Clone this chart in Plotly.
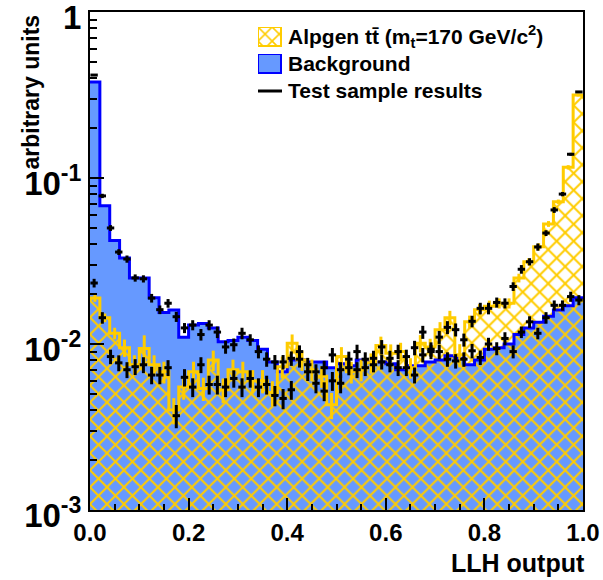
import numpy as np
import plotly.graph_objects as go

# ---------------- data ----------------
# histogram templates: 50 bins on [0, 1]
hist_signal = [0.0189, 0.0144, 0.0116, 0.0095, 0.0075, 0.0094, 0.0075, 0.0068, 0.0040, 0.0055,
               0.0068, 0.0054, 0.0080, 0.0053, 0.0070, 0.0068, 0.0060, 0.0060, 0.0051, 0.0073,
               0.0101, 0.0080, 0.0070, 0.0064, 0.0043, 0.0084, 0.0068, 0.0070, 0.0077, 0.0098,
               0.0088, 0.0090, 0.0072, 0.0101, 0.0096, 0.0122, 0.0144, 0.0086, 0.0136, 0.0161,
               0.0169, 0.0176, 0.0176, 0.0250, 0.0313, 0.0385, 0.0529, 0.0720, 0.1160, 0.3160]
hist_signal_relerr = [0.05, 0.06, 0.08, 0.12, 0.14, 0.20, 0.14, 0.15, 0.18, 0.16,
                      0.15, 0.16, 0.14, 0.17, 0.15, 0.15, 0.16, 0.16, 0.17, 0.15,
                      0.13, 0.14, 0.15, 0.15, 0.18, 0.14, 0.15, 0.15, 0.14, 0.13,
                      0.13, 0.13, 0.14, 0.12, 0.12, 0.11, 0.10, 0.16, 0.09, 0.08,
                      0.08, 0.07, 0.07, 0.06, 0.05, 0.05, 0.04, 0.03, 0.03, 0.02]
hist_background = [0.379, 0.068, 0.042, 0.033, 0.025, 0.025, 0.019, 0.0155, 0.016, 0.011,
                   0.013, 0.0133, 0.0125, 0.0103, 0.0105, 0.0110, 0.0105, 0.0093, 0.0078, 0.0068,
                   0.0080, 0.0080, 0.0078, 0.0078, 0.0072, 0.0076, 0.0074, 0.0080, 0.0078, 0.0078,
                   0.0076, 0.0070, 0.0074, 0.0074, 0.0078, 0.0080, 0.0085, 0.0082, 0.0075, 0.0080,
                   0.0093, 0.0095, 0.0100, 0.0114, 0.0125, 0.0135, 0.0147, 0.0160, 0.0170, 0.0190]

# test samples: 60 bins on [0, 1]
test_background = [0.417, 0.078, 0.050, 0.0358, 0.0325, 0.0250, 0.0247, 0.0189, 0.0161, 0.0176,
                   0.0146, 0.0125, 0.0130, 0.0114, 0.0130, 0.0118, 0.0096, 0.0099, 0.0116, 0.0106,
                   0.0090, 0.0081, 0.0078, 0.0078, 0.0082, 0.0090, 0.0075, 0.0068, 0.0072, 0.0086,
                   0.0070, 0.0072, 0.0070, 0.0081, 0.0075, 0.0078, 0.0075, 0.0072, 0.0072, 0.0065,
                   0.0086, 0.0093, 0.0090, 0.0081, 0.0079, 0.0081, 0.0091, 0.0083, 0.0100, 0.0094,
                   0.0108, 0.0090, 0.0118, 0.0136, 0.0116, 0.0144, 0.0171, 0.0171, 0.0193, 0.0184]
test_background_relerr = [0.01, 0.03, 0.04, 0.04, 0.05, 0.05, 0.05, 0.06, 0.06, 0.06,
                          0.07, 0.07, 0.07, 0.08, 0.07, 0.08, 0.09, 0.09, 0.08, 0.08,
                          0.09, 0.10, 0.10, 0.10, 0.10, 0.09, 0.10, 0.11, 0.10, 0.10,
                          0.11, 0.10, 0.11, 0.10, 0.10, 0.10, 0.10, 0.11, 0.11, 0.11,
                          0.10, 0.10, 0.10, 0.10, 0.10, 0.10, 0.10, 0.10, 0.09, 0.09,
                          0.09, 0.09, 0.08, 0.08, 0.08, 0.08, 0.07, 0.07, 0.07, 0.07]
test_signal = [0.0233, 0.0144, 0.0084, 0.0077, 0.0070, 0.0073, 0.0075, 0.0065, 0.0065, 0.0072,
               0.0037, 0.0063, 0.0055, 0.0075, 0.0057, 0.0057, 0.0055, 0.0062, 0.0055, 0.0062,
               0.0055, 0.0057, 0.0049, 0.0047, 0.0053, 0.0081, 0.0068, 0.0058, 0.0052, 0.0060,
               0.0058, 0.0081, 0.0090, 0.0072, 0.0082, 0.0096, 0.0082, 0.0090, 0.0084, 0.0095,
               0.0118, 0.0090, 0.0110, 0.0126, 0.0122, 0.0106, 0.0137, 0.0164, 0.0164, 0.0178,
               0.0176, 0.0222, 0.0282, 0.0313, 0.0384, 0.0466, 0.0642, 0.0800, 0.1390, 0.3300]
test_signal_relerr = [0.06, 0.08, 0.10, 0.11, 0.11, 0.11, 0.11, 0.12, 0.12, 0.11,
                      0.16, 0.12, 0.13, 0.11, 0.13, 0.13, 0.13, 0.12, 0.13, 0.12,
                      0.13, 0.13, 0.14, 0.14, 0.13, 0.11, 0.12, 0.13, 0.13, 0.13,
                      0.13, 0.11, 0.10, 0.11, 0.11, 0.10, 0.11, 0.10, 0.10, 0.10,
                      0.09, 0.10, 0.09, 0.09, 0.09, 0.09, 0.08, 0.08, 0.08, 0.07,
                      0.07, 0.06, 0.06, 0.05, 0.05, 0.04, 0.04, 0.03, 0.02, 0.01]

x_tick_vals = [0, 0.2, 0.4, 0.6, 0.8, 1.0]
x_tick_text = ["0.0", "0.2", "0.4", "0.6", "0.8", "1.0"]
y_tick_vals = [1e-3, 1e-2, 1e-1, 1]
y_tick_text = ["10<sup>-3</sup>", "10<sup>-2</sup>", "10<sup>-1</sup>", "1"]

# ---------------- styles ----------------
GOLD = "#FFCC00"
BLUE_FILL = "#6699FF"
BLUE_LINE = "#0000FF"
FONT = "Liberation Sans"

n_hist = len(hist_signal)
hist_edges = np.linspace(0.0, 1.0, n_hist + 1)
hist_centers = 0.5 * (hist_edges[:-1] + hist_edges[1:])
hist_w = 1.0 / n_hist

n_test = len(test_signal)
test_edges = np.linspace(0.0, 1.0, n_test + 1)
test_centers = 0.5 * (test_edges[:-1] + test_edges[1:])
test_w = 1.0 / n_test


def step_y(vals):
    return list(vals) + [vals[-1]]


fig = go.Figure()

# background template: blue filled histogram
fig.add_trace(go.Bar(x=hist_centers, y=hist_background, width=hist_w,
                     marker=dict(color=BLUE_FILL, line=dict(width=0)),
                     showlegend=False, hoverinfo="skip"))
fig.add_trace(go.Scatter(x=hist_edges, y=step_y(hist_background), mode="lines",
                         line=dict(color=BLUE_LINE, width=3, shape="hv"),
                         showlegend=False, hoverinfo="skip"))

# signal template: gold cross-hatched histogram
fig.add_trace(go.Bar(x=hist_centers, y=hist_signal, width=hist_w,
                     marker=dict(color="rgba(0,0,0,0)", line=dict(width=0),
                                 pattern=dict(shape="x", fgcolor=GOLD, bgcolor="rgba(0,0,0,0)",
                                              size=12, solidity=0.3, fillmode="replace")),
                     showlegend=False, hoverinfo="skip"))
fig.add_trace(go.Scatter(x=hist_edges, y=step_y(hist_signal), mode="lines",
                         line=dict(color=GOLD, width=3, shape="hv"),
                         showlegend=False, hoverinfo="skip"))
fig.add_trace(go.Scatter(x=hist_centers, y=hist_signal, mode="markers",
                         marker=dict(size=1, color=GOLD),
                         error_y=dict(type="data",
                                      array=[v * e for v, e in zip(hist_signal, hist_signal_relerr)],
                                      color=GOLD, thickness=3, width=0),
                         showlegend=False, hoverinfo="skip"))

# test sample results: black crosses
for vals, rel in ((test_background, test_background_relerr), (test_signal, test_signal_relerr)):
    fig.add_trace(go.Scatter(x=test_centers, y=vals, mode="markers",
                             marker=dict(size=2, color="black"),
                             error_y=dict(type="data", array=[v * e for v, e in zip(vals, rel)],
                                          color="black", thickness=3, width=0),
                             error_x=dict(type="constant", value=test_w * 0.45,
                                          color="black", thickness=3, width=0),
                             showlegend=False, hoverinfo="skip"))

# ---------------- legend (drawn in small inset axes) ----------------
L, R, T, B = 90, 583, 12, 510


def px_x(p):
    return (p - L) / (R - L)


def px_y(p):
    return (B - p) / (B - T)


fig.add_trace(go.Bar(x=[0.5], y=[1], width=1, xaxis="x2", yaxis="y2",
                     marker=dict(color="rgba(0,0,0,0)", line=dict(color=GOLD, width=3),
                                 pattern=dict(shape="x", fgcolor=GOLD, bgcolor="white",
                                              size=10, solidity=0.3, fillmode="replace")),
                     showlegend=False, hoverinfo="skip"))
fig.add_trace(go.Bar(x=[0.5], y=[1], width=1, xaxis="x3", yaxis="y3",
                     marker=dict(color=BLUE_FILL, line=dict(color=BLUE_LINE, width=3)),
                     showlegend=False, hoverinfo="skip"))

inset = dict(range=[0, 1], visible=False, fixedrange=True)
legend_text = ["<b>Alpgen tt\u0304 (m<sub>t</sub>=170 GeV/c<sup>2</sup>)</b>",
               "<b>Background</b>",
               "<b>Test sample results</b>"]
legend_rows = [37, 64, 91]

annotations = []
for txt, row in zip(legend_text, legend_rows):
    annotations.append(dict(x=px_x(286), y=px_y(row), xref="paper", yref="paper",
                            text=txt, showarrow=False, xanchor="left", yanchor="middle",
                            font=dict(family=FONT, size=21, color="black")))

annotations.append(dict(x=px_x(30), y=px_y(13), xref="paper", yref="paper",
                        text="<b>arbitrary units</b>", textangle=-90, showarrow=False,
                        xanchor="center", yanchor="top",
                        font=dict(family=FONT, size=23, color="black")))
annotations.append(dict(x=px_x(587), y=px_y(563), xref="paper", yref="paper",
                        text="<b>LLH output</b>", showarrow=False,
                        xanchor="right", yanchor="middle",
                        font=dict(family=FONT, size=25, color="black")))

shapes = [dict(type="line", xref="paper", yref="paper",
               x0=px_x(258), x1=px_x(282), y0=px_y(91), y1=px_y(91),
               line=dict(color="black", width=3))]

minor_y = [m * 10.0 ** d for d in (-3, -2, -1) for m in range(2, 10)]

fig.update_layout(
    width=603, height=580,
    margin=dict(l=L, r=603 - R, t=T, b=580 - B, autoexpand=False),
    paper_bgcolor="white", plot_bgcolor="white",
    barmode="overlay", bargap=0,
    showlegend=False,
    font=dict(family=FONT, color="black"),
    xaxis=dict(range=[0, 1], showgrid=False, zeroline=False, automargin=False,
               showline=True, linecolor="black", linewidth=2, mirror=True,
               ticks="inside", ticklen=12, tickwidth=1.5, tickcolor="black",
               tickvals=x_tick_vals, ticktext=["<b>%s</b>" % t for t in x_tick_text],
               tickfont=dict(family=FONT, size=24, color="black"),
               minor=dict(ticks="inside", ticklen=6, tickcolor="black", tickwidth=1.5,
                          dtick=0.05, tick0=0)),
    yaxis=dict(type="log", range=[-3, 0], showgrid=False, zeroline=False, automargin=False,
               showline=True, linecolor="black", linewidth=2, mirror=True,
               ticks="inside", ticklen=14, tickwidth=1.5, tickcolor="black",
               tickvals=y_tick_vals, ticktext=["<b>%s</b>" % t for t in y_tick_text],
               tickfont=dict(family=FONT, size=33, color="black"),
               ticklabeloverflow="allow", ticklabelshift=5,
               minor=dict(ticks="inside", ticklen=7, tickcolor="black", tickwidth=1.5,
                          tickvals=minor_y)),
    xaxis2=dict(domain=[px_x(258), px_x(282)], anchor="y2", **inset),
    yaxis2=dict(domain=[px_y(47), px_y(27)], anchor="x2", **inset),
    xaxis3=dict(domain=[px_x(258), px_x(282)], anchor="y3", **inset),
    yaxis3=dict(domain=[px_y(74), px_y(54)], anchor="x3", **inset),
    annotations=annotations,
    shapes=shapes,
)

fig.write_html("out.html")
